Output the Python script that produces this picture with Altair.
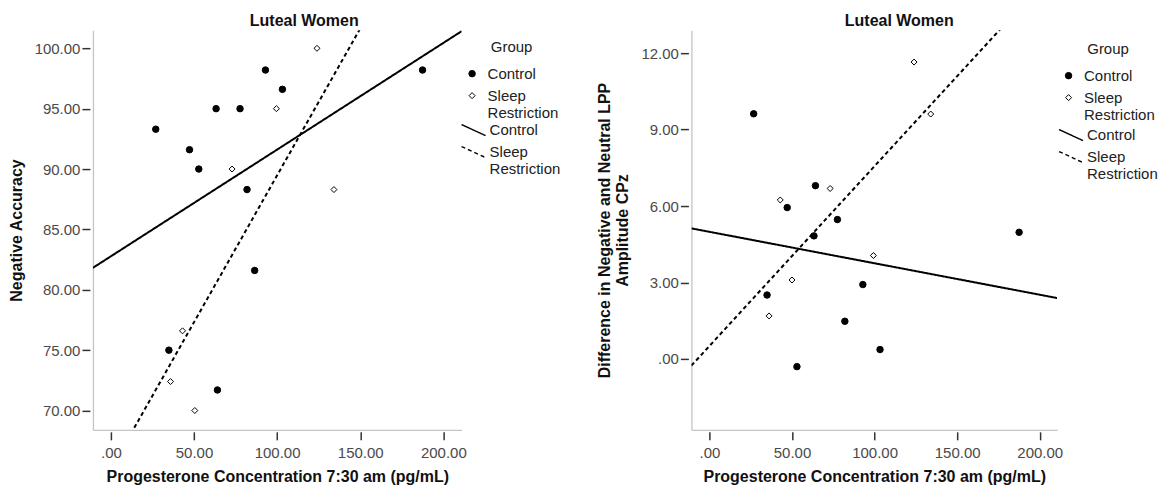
import altair as alt
import pandas as pd

GROUPS = ["Control", "Sleep Restriction"]

# ---- Panel 1: Negative Accuracy ----
acc_control_x = [27.0, 47.3, 52.9, 63.3, 77.7, 81.9, 93.0, 103.2, 187.5, 86.5, 34.9, 64.1]
acc_control_y = [93.3, 91.6, 90.0, 95.0, 95.0, 88.3, 98.2, 96.6, 98.2, 81.6, 75.0, 71.7]
acc_sleep_x = [72.9, 99.6, 124.0, 134.2, 43.1, 35.9, 50.5]
acc_sleep_y = [90.0, 95.0, 100.0, 88.3, 76.6, 72.4, 70.0]

# ---- Panel 2: LPP difference ----
lpp_control_x = [26.8, 47.1, 64.2, 77.5, 63.3, 34.9, 92.9, 82.0, 53.0, 103.3, 187.5]
lpp_control_y = [9.62, 5.94, 6.80, 5.47, 4.83, 2.51, 2.92, 1.48, -0.30, 0.37, 4.97]
lpp_sleep_x = [42.9, 73.1, 50.0, 36.1, 99.3, 123.9, 134.0]
lpp_sleep_y = [6.24, 6.69, 3.10, 1.69, 4.06, 11.65, 9.61]

x_ticks = [0, 50, 100, 150, 200]
acc_ticks = [70, 75, 80, 85, 90, 95, 100]
lpp_ticks = [0, 3, 6, 9, 12]

x_title = "Progesterone Concentration 7:30 am (pg/mL)"
acc_title = "Negative Accuracy"
lpp_title = ["Difference in Negative and Neutral LPP", "Amplitude CPz"]
chart_title = "Luteal Women"

FONT = "Liberation Sans"
LABEL_EXPR = "datum.value == 0 ? '.00' : format(datum.value, '.2f')"
LEGEND_LABEL = "datum.label == 'Sleep Restriction' ? ['Sleep', 'Restriction'] : datum.label"


def panel(cx, cy, sx, sy, xdom, ydom, yticks, ytitle, width, height,
          pleg_xy, lleg_xy, title_dx):
    df = pd.DataFrame({
        "x": cx + sx,
        "y": cy + sy,
        "group": ["Control"] * len(cx) + ["Sleep Restriction"] * len(sx),
    })
    base = alt.Chart(df)
    xscale = alt.Scale(domain=xdom, nice=False, zero=False)
    yscale = alt.Scale(domain=ydom, nice=False, zero=False)

    frame_x = alt.Axis(orient="bottom", domain=True, domainColor="#c4c4c4",
                       domainWidth=1.3, ticks=False, labels=False, grid=False)
    frame_y = alt.Axis(orient="left", domain=True, domainColor="#c4c4c4",
                       domainWidth=1.3, ticks=False, labels=False, grid=False)

    lab_x = alt.Axis(orient="bottom", domain=False, offset=2, values=x_ticks,
                     tickSize=8, tickColor="#333333", tickWidth=1.5,
                     labelExpr=LABEL_EXPR, labelFontSize=15, labelColor="#4a4a4a",
                     labelFont=FONT, labelPadding=6, grid=False,
                     title=x_title, titleFontSize=16, titleFontWeight="bold",
                     titleColor="#111111", titleFont=FONT, titlePadding=8)
    lab_y = alt.Axis(orient="left", domain=False, offset=3, values=yticks,
                     tickSize=8, tickColor="#333333", tickWidth=1.5,
                     labelExpr=LABEL_EXPR, labelFontSize=15, labelColor="#4a4a4a",
                     labelFont=FONT, labelPadding=2, grid=False,
                     title=ytitle, titleFontSize=16, titleFontWeight="bold",
                     titleColor="#111111", titleFont=FONT, titlePadding=10)

    pt_legend = alt.Legend(
        title="Group", orient="none", legendX=pleg_xy[0], legendY=pleg_xy[1],
        padding=0, titleAnchor="middle", titleFontWeight="normal", titleFontSize=15,
        titleColor="#222222", titleFont=FONT, titlePadding=11,
        labelFontSize=15, labelColor="#222222", labelFont=FONT, labelOffset=8,
        labelExpr=LEGEND_LABEL, rowPadding=6, symbolStrokeColor="black",
        symbolStrokeWidth=1)
    ln_legend = alt.Legend(
        title=None, orient="none", legendX=lleg_xy[0], legendY=lleg_xy[1],
        padding=0, labelFontSize=15, labelColor="#222222", labelFont=FONT,
        labelOffset=3, labelExpr=LEGEND_LABEL, rowPadding=-4,
        symbolType="M-1,-0.46L1,0.46", symbolSize=576, symbolStrokeWidth=1.4,
        symbolStrokeColor="black")

    points = base.mark_point(strokeWidth=1, opacity=1).encode(
        x=alt.X("x:Q", scale=xscale, axis=frame_x, title=None),
        y=alt.Y("y:Q", scale=yscale, axis=frame_y, title=None),
        shape=alt.Shape("group:N", scale=alt.Scale(domain=GROUPS, range=["circle", "diamond"]),
                        legend=pt_legend),
        fill=alt.Fill("group:N", scale=alt.Scale(domain=GROUPS, range=["black", "white"]),
                      legend=pt_legend),
        stroke=alt.Stroke("group:N", scale=alt.Scale(domain=GROUPS, range=["black", "black"]),
                          legend=pt_legend),
        size=alt.Size("group:N", scale=alt.Scale(domain=GROUPS, range=[42, 36]),
                      legend=pt_legend),
    )

    lines = base.transform_regression(
        "x", "y", groupby=["group"], extent=xdom
    ).transform_calculate(fit="datum.group").mark_line(
        clip=True, strokeWidth=2, color="black"
    ).encode(
        x=alt.X("x:Q", scale=xscale, axis=lab_x),
        y=alt.Y("y:Q", scale=yscale, axis=lab_y),
        strokeDash=alt.StrokeDash("fit:N", scale=alt.Scale(range=[[1, 0], [4, 3]]),
                                  legend=ln_legend),
    )

    return alt.layer(points, lines).resolve_axis(
        x="independent", y="independent"
    ).properties(
        width=width, height=height,
        title=alt.TitleParams(chart_title, fontSize=16, fontWeight="bold", font=FONT,
                              color="#111111", anchor="middle", frame="group",
                              dx=title_dx, offset=1),
    )


left = panel(acc_control_x, acc_control_y, acc_sleep_x, acc_sleep_y,
             [-10.8, 211.0], [68.4, 101.5], acc_ticks, acc_title, 369, 400,
             (372, 10), (368, 87), 27)
right = panel(lpp_control_x, lpp_control_y, lpp_sleep_x, lpp_sleep_y,
              [-10.9, 210.5], [-2.78, 12.9], lpp_ticks, lpp_title, 366, 400,
              (370, 12), (367, 92), 25)

chart = alt.hconcat(left, right, spacing=36).resolve_scale(
    shape="independent", fill="independent", stroke="independent",
    size="independent", strokeDash="independent"
).resolve_legend(
    shape="independent", fill="independent", stroke="independent",
    size="independent", strokeDash="independent"
).properties(
    padding={"left": 0, "top": 5, "right": 0, "bottom": 0}
).configure(font=FONT).configure_view(stroke=None)

chart.save("out.html", embed_options={"renderer": "svg", "actions": False})
